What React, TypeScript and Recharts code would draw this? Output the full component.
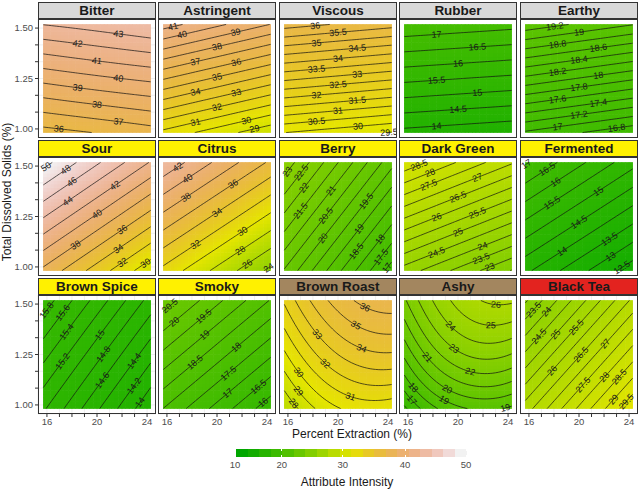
import { ScatterChart, Scatter, XAxis, YAxis, CartesianGrid } from 'recharts';

const EXTRACTION = [16, 20, 24];
const TDS = [1.0, 1.25, 1.5];

const X_TICKS = [16, 17, 18, 19, 20, 21, 22, 23, 24];
const X_LABELLED = [16, 20, 24];
const Y_TICKS = [1.0, 1.0833, 1.1667, 1.25, 1.3333, 1.4167, 1.5];
const Y_LABELS = ['1.00', '1.25', '1.50'];
const LEGEND_BREAKS = [10, 20, 30, 40, 50];

const ATTRIBUTES = [
  'Bitter', 'Astringent', 'Viscous', 'Rubber', 'Earthy',
  'Sour', 'Citrus', 'Berry', 'Dark Green', 'Fermented',
  'Brown Spice', 'Smoky', 'Brown Roast', 'Ashy', 'Black Tea',
];
const CONTOUR_STEP = [1, 1, 0.5, 0.5, 0.2, 2, 2, 0.5, 0.5, 0.5, 0.2, 0.5, 1, 1, 0.5];

// rows: TDS 1.00 / 1.25 / 1.50, columns: extraction 16 / 20 / 24
const bitter = [[35.9, 36.3, 36.75], [39.35, 39.8, 40.2], [42.8, 43.2, 43.65]];
const astringent = [[31.0, 29.85, 28.7], [36.0, 34.85, 33.7], [41.0, 39.85, 38.7]];
const viscous = [[30.2, 29.95, 29.7], [33.1, 32.85, 32.6], [36.0, 35.75, 35.5]];
const rubber = [[13.97, 13.86, 13.75], [15.62, 15.51, 15.4], [17.27, 17.16, 17.05]];
const earthy = [[17.04, 16.89, 16.74], [18.14, 17.99, 17.84], [19.24, 19.09, 18.94]];
const sour = [[37.7, 33.55, 29.4], [43.85, 39.7, 35.55], [50.0, 45.85, 41.7]];
const citrus = [[31.6, 27.9, 24.2], [37.25, 33.55, 29.85], [42.9, 39.2, 35.5]];
const berry = [[20.43, 18.71, 16.99], [21.78, 20.06, 18.34], [23.13, 21.41, 19.69]];
const darkGreen = [[24.37, 23.53, 22.69], [26.51, 25.67, 24.83], [28.65, 27.81, 26.97]];
const fermented = [[14.15, 13.27, 12.39], [15.53, 14.65, 13.77], [16.9, 16.02, 15.14]];
const brownSpice = [[15.02, 14.46, 13.9], [15.43, 14.87, 14.31], [15.85, 15.29, 14.73]];
const smoky = [[18.01, 16.93, 15.85], [19.31, 18.23, 17.15], [20.61, 19.53, 18.45]];
const brownRoast = [[27.5, 30.15, 30.6], [30.1, 33.0, 33.9], [32.3, 35.3, 36.4]];
const ashy = [[16.35, 19.1, 19.2], [19.55, 22.8, 23.05], [22.0, 25.2, 26.0]];
const blackTea = [[26.26, 27.98, 29.7], [24.71, 26.43, 28.15], [23.16, 24.88, 26.6]];

const SURFACES = [
  bitter, astringent, viscous, rubber, earthy,
  sour, citrus, berry, darkGreen, fermented,
  brownSpice, smoky, brownRoast, ashy, blackTea,
];

// layout
const X_DOMAIN = [15.286, 24.714];
const Y_DOMAIN = [0.955, 1.545];
const X_RASTER = [15.714, 24.286];
const Y_RASTER = [0.982, 1.518];
const PANEL_W = 118;
const PANEL_H = 119;
const COL_X = [38, 158, 279, 399, 520];
const STRIP_Y = [2, 140, 278];
const STRIP_H = 17;
const Y_AXIS_W = 38;
const X_AXIS_H = 22;
const NCELL = 30;
const NGRID = 40;
const PX_X = PANEL_W / (X_DOMAIN[1] - X_DOMAIN[0]);
const PX_Y = PANEL_H / (Y_DOMAIN[1] - Y_DOMAIN[0]);
const CELL_W = ((X_RASTER[1] - X_RASTER[0]) / NCELL) * PX_X + 0.6;
const CELL_H = ((Y_RASTER[1] - Y_RASTER[0]) / NCELL) * PX_Y + 0.6;
const LEGEND_LABEL_X = [235, 281.7, 342.7, 405, 466];
const FONT = '"Liberation Sans", Arial, sans-serif';

const GREY = '#d9d9d9';
const YELLOW = '#fff100';
const BROWN = '#a3865f';
const RED = '#e3231f';
const STRIP_BG = [
  GREY, GREY, GREY, GREY, GREY,
  YELLOW, YELLOW, YELLOW, YELLOW, YELLOW,
  YELLOW, YELLOW, BROWN, BROWN, RED,
];

function hsv(h: number, s: number, v: number) {
  const f = (n: number) => {
    const k = (n + h / 60) % 6;
    return v - v * s * Math.max(0, Math.min(k, 4 - k, 1));
  };
  const hex = (c: number) => Math.round(c * 255).toString(16).padStart(2, '0');
  return '#' + hex(f(5)) + hex(f(3)) + hex(f(1));
}

// R terrain.colors, continuous
function terrain(t: number) {
  const c = Math.max(0, Math.min(1, t));
  if (c <= 0.5) {
    const u = c / 0.5;
    return hsv(120 - 60 * u, 1, 0.65 + 0.25 * u);
  }
  const u = (c - 0.5) / 0.5;
  return hsv(60 - 60 * u, 1 - u, 0.9 + 0.05 * u);
}

const intensityColour = (v: number) => terrain((v - 10) / 40);

const weights = (t: number) => [(t * (t - 1)) / 2, 1 - t * t, (t * (t + 1)) / 2];

function intensity(g: number[][], x: number, y: number) {
  const wx = weights((x - EXTRACTION[1]) / (EXTRACTION[1] - EXTRACTION[0]));
  const wy = weights((y - TDS[1]) / (TDS[1] - TDS[0]));
  let v = 0;
  for (let j = 0; j < 3; j++) for (let i = 0; i < 3; i++) v += wy[j] * wx[i] * g[j][i];
  return v;
}

type Pt = { x: number; y: number };

function contourLines(g: number[][], level: number): Pt[][] {
  const xs = Array.from({ length: NGRID + 1 }, (_, i) => X_RASTER[0] + ((X_RASTER[1] - X_RASTER[0]) * i) / NGRID);
  const ys = Array.from({ length: NGRID + 1 }, (_, j) => Y_RASTER[0] + ((Y_RASTER[1] - Y_RASTER[0]) * j) / NGRID);
  const val = ys.map((y) => xs.map((x) => intensity(g, x, y)));
  const pts = new Map<string, Pt>();
  const adj = new Map<string, string[]>();
  const link = (a: string, b: string) => {
    if (!adj.has(a)) adj.set(a, []);
    if (!adj.has(b)) adj.set(b, []);
    adj.get(a)!.push(b);
    adj.get(b)!.push(a);
  };
  for (let j = 0; j < NGRID; j++) {
    for (let i = 0; i < NGRID; i++) {
      const edges: [string, number, number, number, number][] = [
        [`h${i},${j}`, i, j, i + 1, j],
        [`v${i + 1},${j}`, i + 1, j, i + 1, j + 1],
        [`h${i},${j + 1}`, i, j + 1, i + 1, j + 1],
        [`v${i},${j}`, i, j, i, j + 1],
      ];
      const hit: string[] = [];
      for (const [key, i0, j0, i1, j1] of edges) {
        const a = val[j0][i0];
        const b = val[j1][i1];
        if (a >= level !== b >= level) {
          const t = (level - a) / (b - a);
          pts.set(key, { x: xs[i0] + (xs[i1] - xs[i0]) * t, y: ys[j0] + (ys[j1] - ys[j0]) * t });
          hit.push(key);
        }
      }
      if (hit.length === 2) link(hit[0], hit[1]);
      if (hit.length === 4) {
        link(hit[0], hit[1]);
        link(hit[2], hit[3]);
      }
    }
  }
  const used = new Set<string>();
  const walk = (start: string) => {
    const line = [pts.get(start)!];
    used.add(start);
    let cur = start;
    for (;;) {
      const next = (adj.get(cur) || []).find((k) => !used.has(k));
      if (!next) break;
      used.add(next);
      line.push(pts.get(next)!);
      cur = next;
    }
    return line;
  };
  const lines: Pt[][] = [];
  for (const [k, nb] of adj) if (nb.length === 1 && !used.has(k)) lines.push(walk(k));
  for (const k of adj.keys()) {
    if (!used.has(k)) {
      const l = walk(k);
      l.push(l[0]);
      lines.push(l);
    }
  }
  return lines;
}

const LABEL_AT = [0.68, 0.3, 0.5];

function placeLabel(line: Pt[], text: string, k: number) {
  const P = line.map((p) => [p.x * PX_X, -p.y * PX_Y]);
  const seg: number[] = [];
  let total = 0;
  for (let i = 1; i < P.length; i++) {
    const d = Math.hypot(P[i][0] - P[i - 1][0], P[i][1] - P[i - 1][1]);
    seg.push(d);
    total += d;
  }
  if (total < 4) return null;
  let target = total * LABEL_AT[((k % 3) + 3) % 3];
  for (let i = 0; i < seg.length; i++) {
    if (target <= seg[i] || i === seg.length - 1) {
      const f = seg[i] ? Math.min(1, target / seg[i]) : 0;
      const a = Math.max(0, i - 1);
      const b = Math.min(P.length - 1, i + 2);
      let angle = (Math.atan2(P[b][1] - P[a][1], P[b][0] - P[a][0]) * 180) / Math.PI;
      if (angle > 90) angle -= 180;
      if (angle < -90) angle += 180;
      return {
        x: line[i].x + (line[i + 1].x - line[i].x) * f,
        y: line[i].y + (line[i + 1].y - line[i].y) * f,
        text,
        angle,
      };
    }
    target -= seg[i];
  }
  return null;
}

const noShape = () => <g />;

const cellShape = (p: any) => (
  <rect x={p.cx - CELL_W / 2} y={p.cy - CELL_H / 2} width={CELL_W} height={CELL_H} fill={p.payload.fill} />
);

const labelShape = (p: any) => (
  <text
    x={p.cx}
    y={p.cy}
    transform={`rotate(${p.payload.angle} ${p.cx} ${p.cy})`}
    textAnchor="middle"
    dominantBaseline="central"
    fontSize={9}
    fill="#1a1a1a"
  >
    {p.payload.text}
  </text>
);

function Facet({ idx }: { idx: number }) {
  const row = Math.floor(idx / 5);
  const col = idx % 5;
  const g = SURFACES[idx];
  const step = CONTOUR_STEP[idx];
  const isLeft = col === 0;
  const isBottom = row === 2;

  const cells: { x: number; y: number; fill: string }[] = [];
  for (let j = 0; j < NCELL; j++) {
    for (let i = 0; i < NCELL; i++) {
      const x = X_RASTER[0] + ((i + 0.5) * (X_RASTER[1] - X_RASTER[0])) / NCELL;
      const y = Y_RASTER[0] + ((j + 0.5) * (Y_RASTER[1] - Y_RASTER[0])) / NCELL;
      cells.push({ x, y, fill: intensityColour(intensity(g, x, y)) });
    }
  }

  let lo = Infinity;
  let hi = -Infinity;
  for (const x of X_RASTER) for (const y of Y_RASTER) {
    const v = intensity(g, x, y);
    lo = Math.min(lo, v);
    hi = Math.max(hi, v);
  }
  for (let j = 0; j <= 10; j++) for (let i = 0; i <= 10; i++) {
    const v = intensity(g, X_RASTER[0] + (i / 10) * (X_RASTER[1] - X_RASTER[0]), Y_RASTER[0] + (j / 10) * (Y_RASTER[1] - Y_RASTER[0]));
    lo = Math.min(lo, v);
    hi = Math.max(hi, v);
  }

  const lines: Pt[][] = [];
  const labels: any[] = [];
  for (let k = Math.ceil(lo / step); k * step <= hi; k++) {
    const level = Math.round(k * step * 1000) / 1000;
    const text = String(+level.toFixed(1));
    for (const l of contourLines(g, level)) {
      lines.push(l);
      const lab = placeLabel(l, text, k);
      if (lab) labels.push(lab);
    }
  }

  const top = STRIP_Y[row] + STRIP_H;

  return (
    <>
      <div
        style={{
          position: 'absolute',
          left: COL_X[col],
          top: STRIP_Y[row],
          width: PANEL_W,
          height: STRIP_H,
          boxSizing: 'border-box',
          border: '1px solid #333',
          background: STRIP_BG[idx],
          font: `bold 13.5px ${FONT}`,
          lineHeight: `${STRIP_H - 2}px`,
          textAlign: 'center',
          color: '#1a1a1a',
        }}
      >
        {ATTRIBUTES[idx]}
      </div>
      <div style={{ position: 'absolute', left: COL_X[col] - (isLeft ? Y_AXIS_W : 0), top }}>
        <ScatterChart
          width={PANEL_W + (isLeft ? Y_AXIS_W : 0)}
          height={PANEL_H + (isBottom ? X_AXIS_H : 0)}
          margin={{ top: 0, right: 0, bottom: 0, left: 0 }}
        >
          <CartesianGrid stroke="#ebebeb" strokeWidth={0.8} />
          <XAxis
            type="number"
            dataKey="x"
            domain={X_DOMAIN}
            allowDataOverflow
            ticks={X_TICKS}
            interval={0}
            height={isBottom ? X_AXIS_H : 0}
            tick={isBottom ? { fontSize: 9.5, fill: '#4d4d4d' } : false}
            tickLine={isBottom ? { stroke: '#333' } : false}
            axisLine={false}
            tickSize={3}
            tickMargin={1}
            tickFormatter={(v: number) => (X_LABELLED.includes(v) ? String(v) : '')}
          />
          <YAxis
            type="number"
            dataKey="y"
            domain={Y_DOMAIN}
            allowDataOverflow
            ticks={Y_TICKS}
            interval={0}
            width={isLeft ? Y_AXIS_W : 0}
            tick={isLeft ? { fontSize: 9.5, fill: '#4d4d4d' } : false}
            tickLine={isLeft ? { stroke: '#333' } : false}
            axisLine={false}
            tickSize={3}
            tickMargin={2}
            tickFormatter={(v: number) => Y_LABELS.find((l) => Math.abs(parseFloat(l) - v) < 1e-3) ?? ''}
          />
          <Scatter data={cells} shape={cellShape} isAnimationActive={false} />
          {lines.map((pts, k) => (
            <Scatter
              key={k}
              data={pts}
              line={{ stroke: '#111', strokeWidth: 0.7 }}
              shape={noShape}
              isAnimationActive={false}
            />
          ))}
          <Scatter data={labels} shape={labelShape} isAnimationActive={false} />
        </ScatterChart>
      </div>
      <div
        style={{
          position: 'absolute',
          left: COL_X[col],
          top,
          width: PANEL_W,
          height: PANEL_H,
          boxSizing: 'border-box',
          border: '1px solid #333',
          pointerEvents: 'none',
        }}
      />
    </>
  );
}

function ColourBar() {
  const n = 20;
  const x0 = 236;
  const x1 = 466;
  const top = 449;
  const h = 8;
  const w = (x1 - x0) / n;
  return (
    <>
      {Array.from({ length: n }, (_, i) => (
        <div
          key={i}
          style={{
            position: 'absolute',
            left: x0 + i * w,
            top,
            width: w + 0.5,
            height: h,
            background: terrain(i / (n - 1)),
          }}
        />
      ))}
      {LEGEND_BREAKS.map((b, i) => (
        <div key={b}>
          <div style={{ position: 'absolute', left: LEGEND_LABEL_X[i] - 0.5, top, width: 1, height: 2, background: '#fff' }} />
          <div style={{ position: 'absolute', left: LEGEND_LABEL_X[i] - 0.5, top: top + h - 2, width: 1, height: 2, background: '#fff' }} />
          <div
            style={{
              position: 'absolute',
              left: LEGEND_LABEL_X[i] - 20,
              top: 459,
              width: 40,
              textAlign: 'center',
              font: `9.5px ${FONT}`,
              color: '#4d4d4d',
            }}
          >
            {b}
          </div>
        </div>
      ))}
      <div
        style={{
          position: 'absolute',
          left: 247,
          width: 200,
          top: 475,
          textAlign: 'center',
          font: `12px ${FONT}`,
          color: '#1a1a1a',
        }}
      >
        Attribute Intensity
      </div>
    </>
  );
}

export default function App() {
  return (
    <div
      style={{
        position: 'absolute',
        left: 0,
        top: 0,
        width: 640,
        height: 490,
        background: '#fff',
        fontFamily: FONT,
        overflow: 'hidden',
      }}
    >
      {ATTRIBUTES.map((_, i) => (
        <Facet key={i} idx={i} />
      ))}
      <div
        style={{
          position: 'absolute',
          left: 252,
          width: 200,
          top: 427,
          textAlign: 'center',
          font: `12px ${FONT}`,
          color: '#1a1a1a',
        }}
      >
        Percent Extraction (%)
      </div>
      <div
        style={{
          position: 'absolute',
          left: 7.5 - 100,
          top: 192 - 8,
          width: 200,
          height: 16,
          lineHeight: '16px',
          textAlign: 'center',
          font: `12px ${FONT}`,
          color: '#1a1a1a',
          transform: 'rotate(-90deg)',
        }}
      >
        Total Dissolved Solids (%)
      </div>
      <ColourBar />
    </div>
  );
}
